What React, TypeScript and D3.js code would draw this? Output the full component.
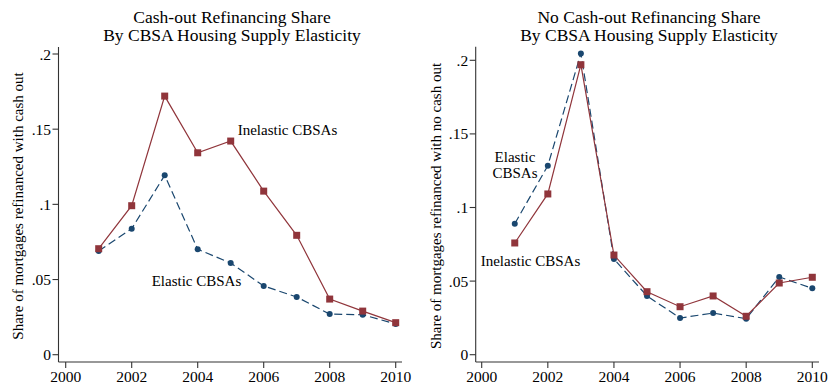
import React from "react";
import * as d3 from "d3";

// Years observed
const years = [2001, 2002, 2003, 2004, 2005, 2006, 2007, 2008, 2009, 2010];

// Cash-out refinancing share
const cashOutInelastic = [0.0705, 0.0991, 0.172, 0.1343, 0.1421, 0.1088, 0.0794, 0.037, 0.029, 0.0213];
const cashOutElastic = [0.069, 0.0838, 0.1193, 0.0701, 0.061, 0.0457, 0.0384, 0.027, 0.0266, 0.0204];

// No cash-out refinancing share
const noCashInelastic = [0.0759, 0.1092, 0.197, 0.0677, 0.0428, 0.0326, 0.0399, 0.0261, 0.0487, 0.0526];
const noCashElastic = [0.089, 0.1284, 0.2047, 0.065, 0.0399, 0.0249, 0.0283, 0.0245, 0.0528, 0.0451];

const xTicks = [2000, 2002, 2004, 2006, 2008, 2010];
const yTicks = [0, 0.05, 0.1, 0.15, 0.2];
const yTickLabels = ["0", ".05", ".1", ".15", ".2"];

const RED = "#90353b";
const BLUE = "#1a476f";
const AXIS = "#333";
const FONT = "'Liberation Serif', 'Times New Roman', serif";

type Label = { lines: string[]; x: number; y: number; anchor: "start" | "middle" };

type PanelProps = {
  title: string[];
  titleX: number;
  yTitle: string;
  yTitleX: number;
  axisX: number;
  axisRight: number;
  axisTop: number;
  axisBottom: number;
  xRange: [number, number];
  yRange: [number, number];
  inelastic: number[];
  elastic: number[];
  labels: Label[];
};

function Panel(p: PanelProps) {
  const x = d3.scaleLinear().domain([2000, 2010]).range(p.xRange);
  const y = d3.scaleLinear().domain([0, 0.2]).range(p.yRange);
  const line = d3
    .line<number>()
    .x((_, i) => x(years[i]))
    .y((d) => y(d));

  return (
    <g>
      {p.title.map((t, i) => (
        <text
          key={i}
          x={p.titleX}
          y={22.6 + i * 18.1}
          textAnchor="middle"
          fontSize={17.5}
          fontFamily={FONT}
          fill="#000"
        >
          {t}
        </text>
      ))}
      <text
        transform={`translate(${p.yTitleX},${206}) rotate(-90)`}
        textAnchor="middle"
        dominantBaseline="central"
        fontSize={15}
        fontFamily={FONT}
        fill="#000"
      >
        {p.yTitle}
      </text>
      {/* axes */}
      <line x1={p.axisX} x2={p.axisX} y1={p.axisTop} y2={p.axisBottom} stroke={AXIS} strokeWidth={1.1} />
      <line x1={p.axisX} x2={p.axisRight} y1={p.axisBottom} y2={p.axisBottom} stroke={AXIS} strokeWidth={1.1} />
      {yTicks.map((t, i) => (
        <g key={t}>
          <line x1={p.axisX - 6} x2={p.axisX} y1={y(t)} y2={y(t)} stroke={AXIS} strokeWidth={1.1} />
          <text
            x={p.axisX - 7.5}
            y={y(t)}
            textAnchor="end"
            dominantBaseline="central"
            fontSize={15.5}
            fontFamily={FONT}
            fill="#000"
          >
            {yTickLabels[i]}
          </text>
        </g>
      ))}
      {xTicks.map((t) => (
        <g key={t}>
          <line x1={x(t)} x2={x(t)} y1={p.axisBottom} y2={p.axisBottom + 6} stroke={AXIS} strokeWidth={1.1} />
          <text x={x(t)} y={381.7} textAnchor="middle" fontSize={15.5} fontFamily={FONT} fill="#000">
            {t}
          </text>
        </g>
      ))}
      {/* series */}
      <path d={line(p.elastic) ?? ""} fill="none" stroke={BLUE} strokeWidth={1.2} strokeDasharray="8,4" />
      <path d={line(p.inelastic) ?? ""} fill="none" stroke={RED} strokeWidth={1.2} />
      {p.elastic.map((v, i) => (
        <circle key={"e" + i} cx={x(years[i])} cy={y(v)} r={3} fill={BLUE} />
      ))}
      {p.inelastic.map((v, i) => (
        <rect key={"i" + i} x={x(years[i]) - 3.5} y={y(v) - 3.5} width={7} height={7} fill={RED} />
      ))}
      {p.labels.map((l, k) =>
        l.lines.map((s, j) => (
          <text
            key={k + "-" + j}
            x={l.x}
            y={l.y + j * 16}
            textAnchor={l.anchor}
            dominantBaseline="central"
            fontSize={15}
            fontFamily={FONT}
            fill="#000"
          >
            {s}
          </text>
        ))
      )}
    </g>
  );
}

export default function App() {
  return (
    <svg
      width={834}
      height={387}
      style={{ position: "absolute", left: 0, top: 0, background: "#fff" }}
    >
      <rect width={834} height={387} fill="#fff" />
      <Panel
        title={["Cash-out Refinancing Share", "By CBSA Housing Supply Elasticity"]}
        titleX={232}
        yTitle="Share of mortgages refinanced with cash out"
        yTitleX={18.3}
        axisX={58.5}
        axisRight={402}
        axisTop={47}
        axisBottom={362}
        xRange={[65.7, 395.7]}
        yRange={[354.7, 54]}
        inelastic={cashOutInelastic}
        elastic={cashOutElastic}
        labels={[
          { lines: ["Inelastic CBSAs"], x: 237.7, y: 130, anchor: "start" },
          { lines: ["Elastic CBSAs"], x: 151.7, y: 280.7, anchor: "start" },
        ]}
      />
      <Panel
        title={["No Cash-out Refinancing Share", "By CBSA Housing Supply Elasticity"]}
        titleX={649}
        yTitle="Share of mortgages refinanced with no cash out"
        yTitleX={435.7}
        axisX={475.7}
        axisRight={819}
        axisTop={46.7}
        axisBottom={362}
        xRange={[481.7, 812.3]}
        yRange={[354.7, 60.3]}
        inelastic={noCashInelastic}
        elastic={noCashElastic}
        labels={[
          { lines: ["Elastic", "CBSAs"], x: 515, y: 156.7, anchor: "middle" },
          { lines: ["Inelastic CBSAs"], x: 480.7, y: 260.7, anchor: "start" },
        ]}
      />
    </svg>
  );
}
